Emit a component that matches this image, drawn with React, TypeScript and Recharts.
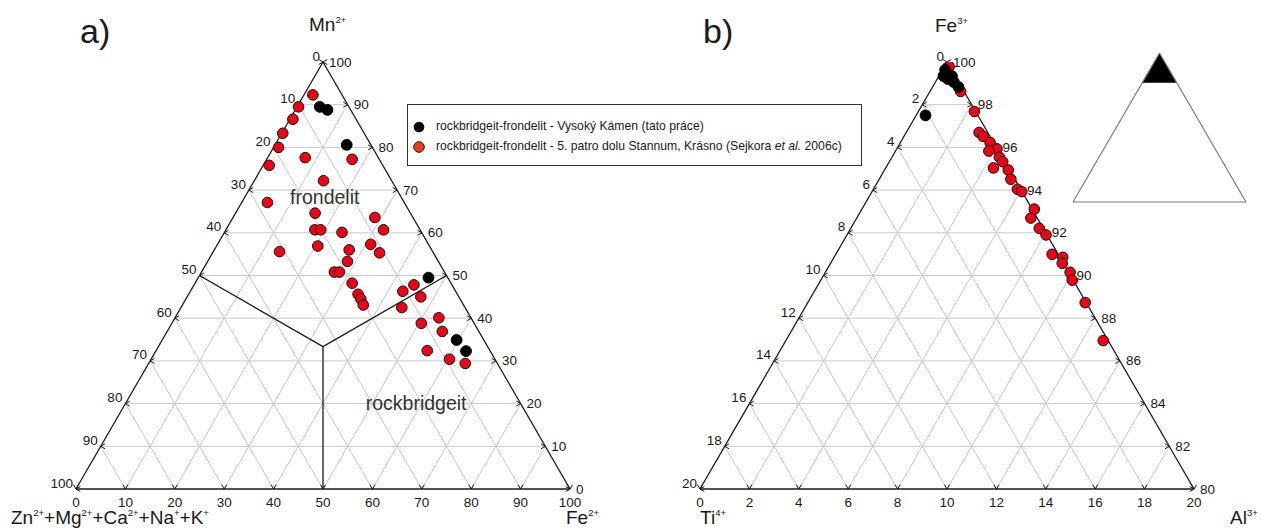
import React from "react";
import {
  ScatterChart,
  Scatter,
  ComposedChart,
  Area,
  XAxis,
  YAxis,
  ReferenceLine,
  ReferenceDot,
  Legend,
} from "recharts";

const FONT = '"Liberation Sans", Arial, Helvetica, sans-serif';
const S60 = Math.sqrt(3) / 2;

// a) Mn2+ / Fe2+ / (Zn+Mg+Ca+Na+K), in %
const blackFe2 = [4.6, 6.5, 14.5, 46.6, 59.6, 62.8];
const blackMn = [89.5, 88.8, 80.6, 49.5, 34.9, 32.3];
const redFe2 = [
  1.8, 0.3, 0.6, 0.2, 1.0, 1.2, 7.6, 17.3, 14.0, 5.2, 16.1, 28.7, 18.0, 19.2,
  23.8, 31.9, 13.4, 20.5, 27.3, 31.0, 33.8, 28.3, 26.9, 27.9, 31.8, 34.3, 35.4,
  36.6, 44.5, 43.0, 47.3, 44.7, 53.4, 50.5, 55.7, 54.9, 60.4, 64.1,
];
const redMn = [
  92.3, 89.5, 86.6, 83.3, 80.0, 75.8, 77.6, 77.2, 72.2, 67.1, 64.6, 63.6, 60.7,
  60.7, 60.1, 60.7, 55.6, 56.9, 56.0, 57.3, 55.3, 53.3, 50.8, 50.8, 48.2, 45.6,
  44.5, 43.1, 47.8, 46.3, 45.0, 42.5, 40.1, 38.8, 36.9, 32.4, 30.4, 29.4,
];

// b) Fe3+ / Al3+ / Ti4+, Fe3+ between 80 and 100 %
const blackAl = [0.11, 0.19, 0.44, 0.53, 0.75, 1.05, 0.38];
const blackFe3 = [99.63, 99.34, 99.2, 99.34, 99.06, 98.83, 97.5];
const redAl = [
  0.19, 1.24, 2.27, 2.95, 3.2, 3.63, 4.06, 3.78, 4.35, 4.59, 4.36, 5.01, 5.33,
  5.83, 6.06, 6.98, 7.05, 7.63, 8.06, 8.76, 9.26, 9.38, 9.91, 10.18, 11.23, 12.85,
];
const redFe3 = [
  99.79, 98.62, 97.68, 96.7, 96.52, 96.23, 95.93, 95.83, 95.54, 95.33, 95.04,
  94.94, 94.51, 94.04, 93.93, 93.11, 92.69, 92.21, 91.9, 90.99, 90.85, 90.57,
  90.15, 89.78, 88.73, 86.95,
];

// tick labels, listed as they appear (top to bottom, left to right)
const leftTicksA = ["0", "10", "20", "30", "40", "50", "60", "70", "80", "90", "100"];
const rightTicksA = ["100", "90", "80", "70", "60", "50", "40", "30", "20", "10", "0"];
const bottomTicksA = ["0", "10", "20", "30", "40", "50", "60", "70", "80", "90", "100"];
const leftTicksB = ["0", "2", "4", "6", "8", "10", "12", "14", "16", "18", "20"];
const rightTicksB = ["100", "98", "96", "94", "92", "90", "88", "86", "84", "82", "80"];
const bottomTicksB = ["0", "2", "4", "6", "8", "10", "12", "14", "16", "18", "20"];

const FE3_MIN = 80;

// r = component growing to the right, t = component at the apex
const tern = (r: number, t: number) => ({ x: r + t / 2, y: t * S60 });

const ptsA = (fe: number[], mn: number[]) => fe.map((f, i) => tern(f, mn[i]));
const ptsB = (al: number[], fe: number[]) => al.map((a, i) => tern(a, fe[i] - FE3_MIN));

const redDot = (p: any) => (
  <circle cx={p.cx} cy={p.cy} r={5.3} fill="#e3061b" stroke="#2a0505" strokeWidth={1} />
);
const blackDot = (p: any) => (
  <circle cx={p.cx} cy={p.cy} r={5.4} fill="#000" stroke="#000" strokeWidth={1} />
);

const textAt = (key: string, pos: { x: number; y: number }, node: React.ReactNode) => (
  <ReferenceDot
    key={key}
    x={pos.x}
    y={pos.y}
    r={0}
    ifOverflow="visible"
    shape={(p: any) => <g transform={`translate(${p.cx},${p.cy})`}>{node}</g>}
  />
);

const seg = (key: string, a: any, b: any, stroke: string, w: number) => (
  <ReferenceLine
    key={key}
    segment={[a, b]}
    stroke={stroke}
    strokeWidth={w}
    ifOverflow="visible"
  />
);

function frame(id: string, L: number, left: string[], right: string[], bottom: string[]) {
  const n = bottom.length - 1;
  const step = L / n;
  const out: React.ReactNode[] = [];
  for (let i = 1; i < n; i++) {
    const k = i * step;
    out.push(seg(`${id}h${i}`, tern(0, k), tern(L - k, k), "#c9c9c9", 1));
    out.push(seg(`${id}r${i}`, tern(k, 0), tern(k, L - k), "#c9c9c9", 1));
    out.push(seg(`${id}l${i}`, tern(L - k, 0), tern(0, L - k), "#c9c9c9", 1));
  }
  out.push(seg(`${id}e1`, tern(0, 0), tern(L, 0), "#1a1a1a", 1.3));
  out.push(seg(`${id}e2`, tern(0, 0), tern(0, L), "#1a1a1a", 1.3));
  out.push(seg(`${id}e3`, tern(L, 0), tern(0, L), "#1a1a1a", 1.3));

  const tick = { fontFamily: FONT, fontSize: 13.5, fill: "#1a1a1a" };
  for (let i = 0; i <= n; i++) {
    const t = L - i * step;
    out.push(
      textAt(
        `${id}tl${i}`,
        tern(0, t),
        <>
          <path d="M4.3,-2.5 L0,0 L4.3,2.5" fill="none" stroke="#1a1a1a" strokeWidth={1} />
          <text x={-3} y={-1.5} textAnchor="end" {...tick}>{left[i]}</text>
        </>
      )
    );
    out.push(
      textAt(
        `${id}tr${i}`,
        tern(L - t, t),
        <>
          <path d="M-4.3,-2.5 L0,0 L-4.3,2.5" fill="none" stroke="#1a1a1a" strokeWidth={1} />
          <text x={6} y={4.5} textAnchor="start" {...tick}>{right[i]}</text>
        </>
      )
    );
    out.push(
      textAt(
        `${id}tb${i}`,
        tern(i * step, 0),
        <>
          <path d="M-2.5,-4.3 L0,0 L2.5,-4.3" fill="none" stroke="#1a1a1a" strokeWidth={1} />
          <text x={0} y={17.5} textAnchor="middle" {...tick}>{bottom[i]}</text>
        </>
      )
    );
  }
  return out;
}

const title = { fontFamily: FONT, fontSize: 19, fill: "#1a1a1a" };
const supText = (parts: [string, string][], anchor: string) => (
  <text {...title} textAnchor={anchor as any}>
    {parts.map(([base, sup], i) => (
      <React.Fragment key={i}>
        <tspan dy={i === 0 ? 0 : 8}>{base}</tspan>
        <tspan fontSize={9.5} dy={-8}>{sup}</tspan>
      </React.Fragment>
    ))}
  </text>
);

function LegendBox() {
  const row = { position: "absolute" as const, left: 28, whiteSpace: "nowrap" as const };
  return (
    <div
      style={{
        position: "relative",
        width: 455,
        height: 62,
        boxSizing: "border-box",
        border: "1px solid #333",
        background: "#fff",
        fontFamily: FONT,
        fontSize: 12.2,
        color: "#1a1a1a",
      }}
    >
      <svg width={20} height={60} style={{ position: "absolute", left: 0, top: 0 }}>
        <circle cx={11} cy={22} r={5.3} fill="#000" />
        <circle cx={11} cy={42} r={5.3} fill="#e2401f" stroke="#3a0a05" strokeWidth={1} />
      </svg>
      <span style={{ ...row, top: 14 }}>rockbridgeit-frondelit - Vysoký Kámen (tato práce)</span>
      <span style={{ ...row, top: 34 }}>
        rockbridgeit-frondelit - 5. patro dolu Stannum, Krásno (Sejkora <i>et al.</i> 2006c)
      </span>
    </div>
  );
}

const insetOutline = [tern(0, 0), tern(100, 0), tern(0, 100)];
const insetBand = [
  { x: tern(0, FE3_MIN).x, band: [FE3_MIN * S60, FE3_MIN * S60] },
  { x: tern(0, 100).x, band: [FE3_MIN * S60, 100 * S60] },
  { x: tern(100 - FE3_MIN, FE3_MIN).x, band: [FE3_MIN * S60, FE3_MIN * S60] },
];

export default function App() {
  const region = { fontFamily: FONT, fontSize: 19.5, fill: "#333" };
  return (
    <div style={{ position: "absolute", left: 0, top: 0, width: 1261, height: 528, background: "#fff" }}>
      <div style={{ position: "absolute", left: 0, top: 0 }}>
        <ScatterChart width={640} height={528} margin={{ top: 62, right: 70, bottom: 39, left: 76 }}>
          <XAxis type="number" dataKey="x" domain={[0, 100]} allowDataOverflow hide />
          <YAxis type="number" dataKey="y" domain={[0, 100 * S60]} allowDataOverflow hide />
          {frame("a", 100, leftTicksA, rightTicksA, bottomTicksA)}
          {seg("fb1", tern(0, 50), tern(100 / 3, 100 / 3), "#1a1a1a", 1.3)}
          {seg("fb2", tern(100 / 3, 100 / 3), tern(50, 50), "#1a1a1a", 1.3)}
          {seg("fb3", tern(100 / 3, 100 / 3), tern(50, 0), "#1a1a1a", 1.3)}
          {textAt("frondelit", tern(17.0, 66.7), <text textAnchor="middle" {...region}>frondelit</text>)}
          {textAt("rockbridgeit", tern(59.6, 18.5), <text textAnchor="middle" {...region}>rockbridgeit</text>)}
          {textAt("aMn", tern(0, 100), <g transform="translate(-14,-31)">{supText([["Mn", "2+"]], "start")}</g>)}
          {textAt("aZn", tern(0, 0), <g transform="translate(-65,35)">{supText([["Zn", "2+"], ["+Mg", "2+"], ["+Ca", "2+"], ["+Na", "+"], ["+K", "+"]], "start")}</g>)}
          {textAt("aFe", tern(100, 0), <g transform="translate(-4,35)">{supText([["Fe", "2+"]], "start")}</g>)}
          {textAt("aLabel", tern(0, 0), <text x={4} y={-446} fontFamily={FONT} fontSize={34} fill="#1a1a1a">a)</text>)}
          <Scatter data={ptsA(redFe2, redMn)} shape={redDot} isAnimationActive={false} />
          <Scatter data={ptsA(blackFe2, blackMn)} shape={blackDot} isAnimationActive={false} />
          <Legend
            layout="horizontal"
            verticalAlign="middle"
            align="center"
            content={() => <LegendBox />}
            wrapperStyle={{ position: "absolute", left: 407, top: 104, width: 455, height: 62 }}
          />
        </ScatterChart>
      </div>

      <div style={{ position: "absolute", left: 640, top: 0 }}>
        <ScatterChart width={621} height={528} margin={{ top: 62, right: 67, bottom: 39, left: 60 }}>
          <XAxis type="number" dataKey="x" domain={[0, 20]} allowDataOverflow hide />
          <YAxis type="number" dataKey="y" domain={[0, 20 * S60]} allowDataOverflow hide />
          {frame("b", 20, leftTicksB, rightTicksB, bottomTicksB)}
          {textAt("bFe", tern(0, 20), <g transform="translate(-12,-30)">{supText([["Fe", "3+"]], "start")}</g>)}
          {textAt("bTi", tern(0, 0), <g transform="translate(0,35)">{supText([["Ti", "4+"]], "start")}</g>)}
          {textAt("bAl", tern(20, 0), <g transform="translate(36,35)">{supText([["Al", "3+"]], "start")}</g>)}
          {textAt("bLabel", tern(0, 0), <text x={3} y={-446} fontFamily={FONT} fontSize={34} fill="#1a1a1a">b)</text>)}
          <Scatter data={ptsB(redAl, redFe3)} shape={redDot} isAnimationActive={false} />
          <Scatter data={ptsB(blackAl, blackFe3)} shape={blackDot} isAnimationActive={false} />
        </ScatterChart>
      </div>

      <div style={{ position: "absolute", left: 1072, top: 52 }}>
        <ComposedChart width={175} height={151} margin={{ top: 1, right: 1, bottom: 1, left: 1 }}>
          <XAxis type="number" dataKey="x" domain={[0, 100]} allowDataOverflow hide />
          <YAxis type="number" domain={[0, 100 * S60]} allowDataOverflow hide />
          <Area
            data={insetBand}
            dataKey="band"
            type="linear"
            fill="#000"
            fillOpacity={1}
            stroke="none"
            isAnimationActive={false}
          />
          {seg("i1", insetOutline[0], insetOutline[1], "#7a7a7a", 1.2)}
          {seg("i2", insetOutline[1], insetOutline[2], "#7a7a7a", 1.2)}
          {seg("i3", insetOutline[2], insetOutline[0], "#7a7a7a", 1.2)}
        </ComposedChart>
      </div>
    </div>
  );
}
